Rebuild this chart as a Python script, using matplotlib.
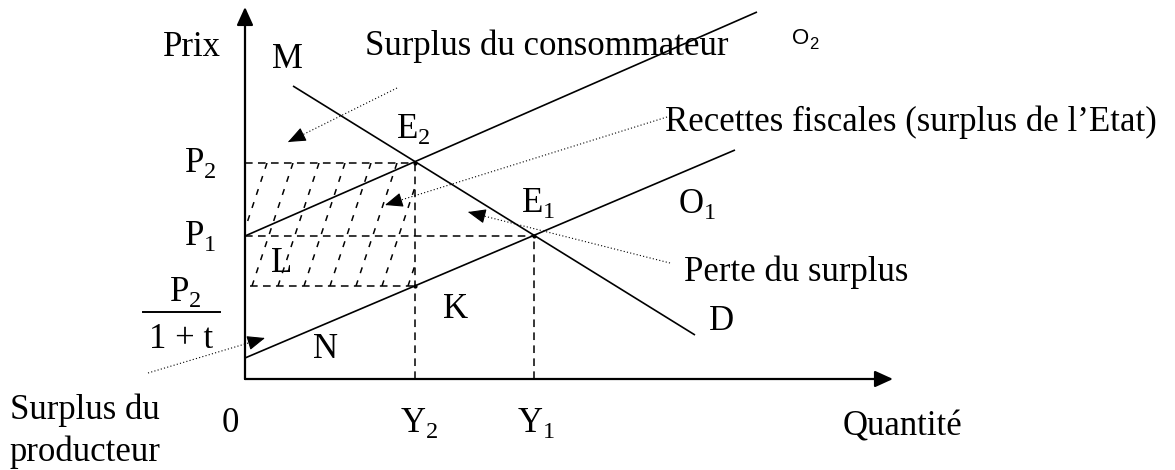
import matplotlib.pyplot as plt
import numpy as np
from matplotlib.patches import Rectangle

plt.rcParams['font.family'] = ['Liberation Serif', 'DejaVu Serif']
plt.rcParams['mathtext.fontset'] = 'custom'
plt.rcParams['mathtext.rm'] = 'Liberation Serif'

# quantities and prices (origin at the corner of the axes)
Y2, Y1 = 170, 289
P2, P1, P_tax = 216, 143, 93

# straight lines as (start, end)
demand = [(48, 293), (450, 44)]
supply_o1 = [(0, 21), (490, 229)]
supply_o2 = [(0, 143), (512, 367)]

# dotted pointers: (tail, head)
ptr_consumer = [(152, 291), (43, 237)]
ptr_state = [(422, 262), (140, 174)]
ptr_loss = [(425, 116), (223, 167)]
ptr_producer = [(-97, 6), (20, 41)]

Q_MAX, P_MAX = 648, 372

fig = plt.figure(figsize=(11.75, 4.7), dpi=100)
ax = fig.add_axes([0, 0, 1, 1])
ax.set_xlim(-245, 930)
ax.set_ylim(-91, 379)
ax.axis('off')

FS = 25
dash = (0, (5, 3.5))


def arrow(head, tail, lw=1.6, hl=1.1, hw=0.5):
    ax.annotate('', xy=head, xytext=tail,
                arrowprops=dict(arrowstyle=f'-|>,head_length={hl},head_width={hw}',
                                color='k', lw=lw, shrinkA=0, shrinkB=0))


# axes
arrow((0, P_MAX), (0, 0))
arrow((Q_MAX, 0), (0, 0))

# curves
for seg in (demand, supply_o1, supply_o2):
    (x0, y0), (x1, y1) = seg
    ax.plot([x0, x1], [y0, y1], color='k', lw=1.2, solid_capstyle='butt')

# guide lines
ax.plot([0, Y2], [P2, P2], color='k', lw=1.1, ls=dash)
ax.plot([0, Y1], [P1, P1], color='k', lw=1.1, ls=dash)
ax.plot([5, Y2], [P_tax, P_tax], color='k', lw=1.1, ls=dash)
ax.plot([Y2, Y2], [0, P2], color='k', lw=1.1, ls=dash)
ax.plot([Y1, Y1], [0, P1], color='k', lw=1.1, ls=dash)

# hatched tax area
clip = Rectangle((0, P_tax), Y2, P2 - P_tax, transform=ax.transData)
h = P2 - P_tax
for c in np.arange(22, Y2 + h / 3 + 30, 26):
    ln, = ax.plot([c, c - h / 3], [P2, P_tax], color='k', lw=1.1, ls=(0, (4, 5)))
    ln.set_clip_path(clip)

ax.plot([Y2, Y1, Y2], [P2, P1, P_tax], 'k.', ms=4)

# dotted pointers
for (tail, head) in (ptr_consumer, ptr_state, ptr_loss, ptr_producer):
    ax.plot([tail[0], head[0]], [tail[1], head[1]], color='k', lw=0.8, ls=(0, (1, 2)))
    d = np.subtract(head, tail)
    d = d / np.hypot(*d)
    arrow(head, tuple(np.array(head) - d * 12), lw=0.8, hl=1.1, hw=0.45)

# labels
ax.text(-53, 331, 'Prix', fontsize=FS, ha='center', va='center')
ax.text(42, 320, 'M', fontsize=FS, ha='center', va='center')
ax.text(120, 333, 'Surplus du consommateur', fontsize=FS, ha='left', va='center')
o2 = ax.text(556, 340, 'O', fontsize=16, family='Liberation Sans', ha='center', va='center')
ax.annotate('2', xy=(1, 0), xycoords=o2, xytext=(0, -2), textcoords='offset points',
            fontsize=12, family='Liberation Sans', ha='left', va='bottom')
ax.text(Y2 - 2, 250, r'E$_2$', fontsize=FS, ha='center', va='center')
ax.text(420, 257, "Recettes fiscales (surplus de l\u2019Etat)", fontsize=FS, ha='left', va='center')
ax.text(Y1 + 4, 176, r'E$_1$', fontsize=FS, ha='center', va='center')
ax.text(452, 175, r'O$_1$', fontsize=FS, ha='center', va='center')
ax.text(-45, P2, r'P$_2$', fontsize=FS, ha='center', va='center')
ax.text(-45, P1, r'P$_1$', fontsize=FS, ha='center', va='center')
ax.text(37, 116, 'L', fontsize=FS, ha='center', va='center')
ax.text(-60, 87, r'P$_2$', fontsize=FS, ha='center', va='center')
ax.plot([-102, -25], [67, 67], color='k', lw=1.4)
ax.text(-64, 40, '1 + t', fontsize=FS, ha='center', va='center')
ax.text(81, 29, 'N', fontsize=FS, ha='center', va='center')
ax.text(211, 70, 'K', fontsize=FS, ha='center', va='center')
ax.text(477, 57, 'D', fontsize=FS, ha='center', va='center')
ax.text(439, 107, 'Perte du surplus', fontsize=FS, ha='left', va='center')
ax.text(-235, -31, 'Surplus du', fontsize=FS, ha='left', va='center')
ax.text(-235, -73, 'producteur', fontsize=FS, ha='left', va='center')
ax.text(-15, -44, '0', fontsize=FS, ha='center', va='center')
ax.text(Y2 + 4, -44, r'Y$_2$', fontsize=FS, ha='center', va='center')
ax.text(Y1 + 2, -44, r'Y$_1$', fontsize=FS, ha='center', va='center')
ax.text(598, -48, 'Quantit\u00e9', fontsize=FS, ha='left', va='center')

fig.savefig('out.png', dpi=100)
